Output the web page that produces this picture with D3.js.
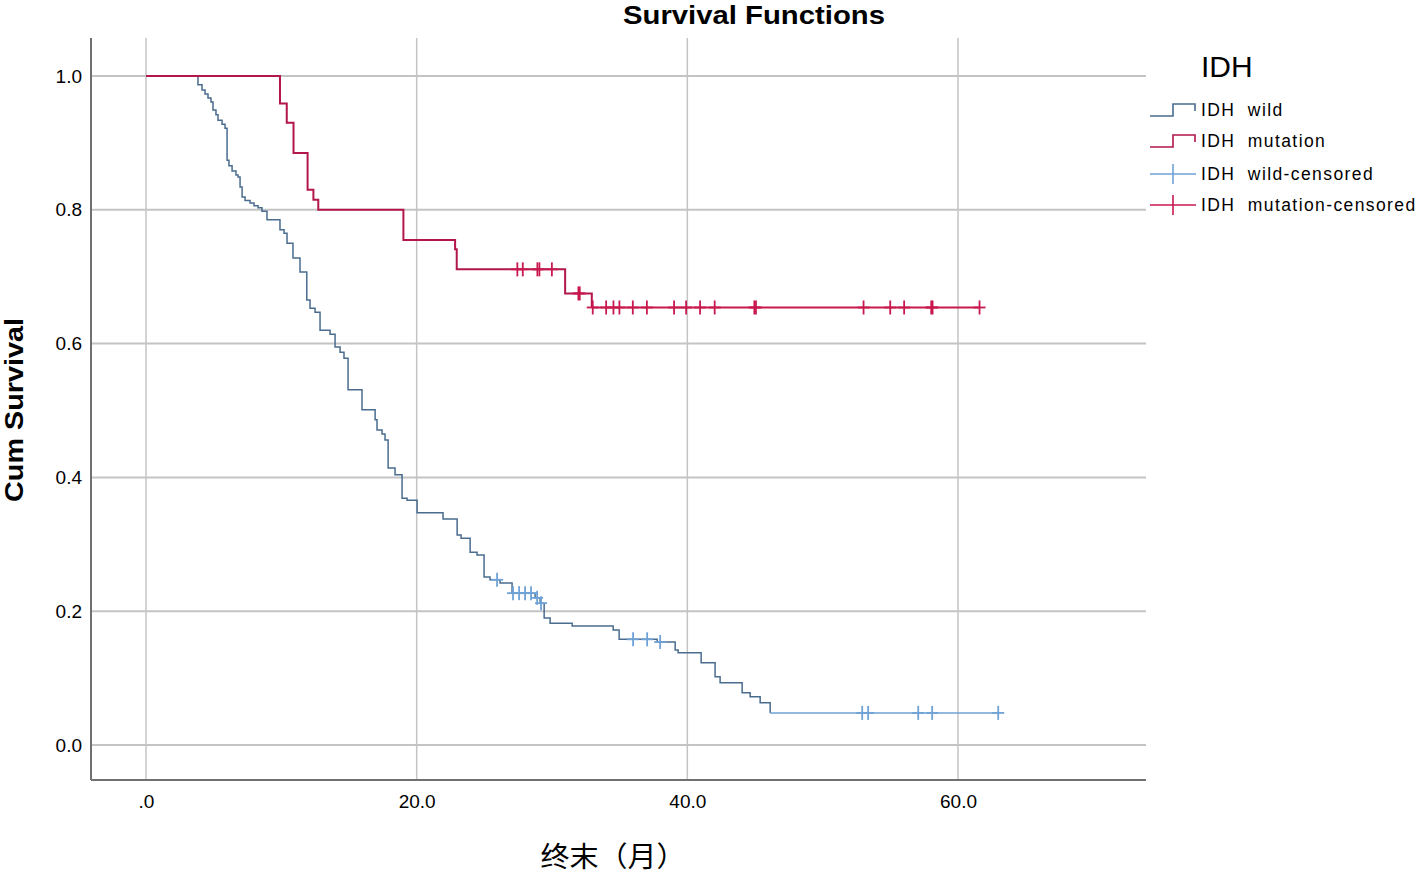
<!DOCTYPE html>
<html>
<head>
<meta charset="utf-8">
<script src="https://cdn.jsdelivr.net/npm/d3@7"></script>
<style>
  html, body { margin: 0; padding: 0; background: #fff; }
  svg { display: block; }
  text { font-family: "Liberation Sans", Arial, sans-serif; fill: #000; }
</style>
</head>
<body>
<svg id="chart" width="1416" height="875"></svg>
<script>
// ---- Data ----
const xTicks = [0, 20, 40, 60];
const xTickLabels = [".0", "20.0", "40.0", "60.0"];
const yTicks = [0, 0.2, 0.4, 0.6, 0.8, 1.0];
const yTickLabels = ["0.0", "0.2", "0.4", "0.6", "0.8", "1.0"];

const seriesNames = ["IDH wild", "IDH mutation", "IDH wild-censored", "IDH mutation-censored"];

// IDH wild: event times (months) and survival after each event
const wildTimes = [3.84,4.14,4.36,4.58,4.80,4.95,5.17,5.32,5.62,5.84,5.99,6.13,6.36,6.65,6.80,6.95,7.10,7.32,7.69,7.98,8.28,8.57,8.94,9.90,10.20,10.42,10.86,11.38,11.88,12.12,12.49,12.86,13.60,13.97,14.34,14.63,14.93,15.96,16.93,17.07,17.44,17.66,17.89,18.40,18.92,19.29,20.03,21.95,22.99,23.28,23.95,24.46,24.98,25.42,26.16,27.05,28.75,29.12,29.42,29.86,31.49,34.52,34.96,37.77,39.10,39.32,41.02,42.05,42.42,44.05,44.64,45.38,46.12];
const wildSurv = [0.987,0.979,0.973,0.967,0.961,0.949,0.942,0.934,0.928,0.922,0.874,0.866,0.858,0.852,0.849,0.834,0.819,0.814,0.810,0.806,0.803,0.798,0.785,0.770,0.765,0.750,0.728,0.707,0.665,0.653,0.647,0.620,0.614,0.595,0.587,0.578,0.531,0.501,0.486,0.471,0.465,0.456,0.414,0.404,0.369,0.366,0.347,0.338,0.314,0.309,0.288,0.284,0.251,0.247,0.242,0.227,0.220,0.212,0.190,0.182,0.178,0.172,0.158,0.154,0.142,0.138,0.123,0.102,0.093,0.078,0.072,0.063,0.048];
const wildCensored = [25.94,27.12,27.57,28.01,28.45,28.90,29.19,35.99,37.03,37.99,52.92,53.36,57.06,58.09,62.97];

// IDH mutation
const mutTimes = [9.90,10.40,10.90,11.94,12.37,12.73,19.02,22.84,22.96,30.97,32.94];
const mutSurv = [0.959,0.930,0.885,0.830,0.815,0.800,0.755,0.741,0.711,0.675,0.654];
const mutCensored = [27.44,27.84,28.92,29.07,29.99,31.95,32.05,33.01,34.00,34.54,34.98,35.97,37.01,39.02,39.91,40.94,42.02,44.95,45.07,53.02,54.99,56.02,58.02,58.12,61.59];

// ---- Styles ----
const wildLine = "#4a6c8f", wildCens = "#6fa2d6";
const mutLine = "#b3164a", mutCens = "#c8184e";
const gridColor = "#c4c4c4", axisColor = "#707070";

const svg = d3.select("#chart");
const plot = { left: 91, right: 1146, top: 38, bottom: 780 };

const x = d3.scaleLinear().domain([-4.064, 73.89]).range([plot.left, plot.right]);
const y = d3.scaleLinear().domain([-0.0523, 1.0568]).range([plot.bottom, plot.top]);

// Gridlines
svg.append("g").selectAll("line.v").data(xTicks).join("line")
  .attr("x1", d => x(d)).attr("x2", d => x(d))
  .attr("y1", plot.top).attr("y2", plot.bottom)
  .attr("stroke", gridColor).attr("stroke-width", 1.5);
svg.append("g").selectAll("line.h").data(yTicks).join("line")
  .attr("x1", plot.left).attr("x2", plot.right)
  .attr("y1", d => y(d)).attr("y2", d => y(d))
  .attr("stroke", gridColor).attr("stroke-width", 2);

// Axes (no tick marks)
const xAxis = d3.axisBottom(x).tickValues(xTicks).tickFormat((d, i) => xTickLabels[i]).tickSize(0).tickPadding(15);
const gx = svg.append("g").attr("transform", `translate(0,${plot.bottom})`).call(xAxis);
gx.select(".domain").remove();
gx.selectAll("text").attr("font-size", 19).attr("font-family", "Liberation Sans, Arial, sans-serif").attr("fill", "#111");

const yAxis = d3.axisLeft(y).tickValues(yTicks).tickFormat((d, i) => yTickLabels[i]).tickSize(0).tickPadding(9);
const gy = svg.append("g").attr("transform", `translate(${plot.left},0)`).call(yAxis);
gy.select(".domain").remove();
gy.selectAll("text").attr("font-size", 19).attr("font-family", "Liberation Sans, Arial, sans-serif").attr("fill", "#111");

svg.append("line").attr("x1", plot.left).attr("x2", plot.left).attr("y1", plot.top).attr("y2", plot.bottom)
  .attr("stroke", axisColor).attr("stroke-width", 2);
svg.append("line").attr("x1", plot.left).attr("x2", plot.right).attr("y1", plot.bottom).attr("y2", plot.bottom)
  .attr("stroke", axisColor).attr("stroke-width", 2);

// Survival step functions
function survAt(times, surv, t) {
  let s = 1;
  for (let i = 0; i < times.length; i++) if (times[i] <= t) s = surv[i];
  return s;
}
const line = d3.line().x(d => x(d[0])).y(d => y(d[1])).curve(d3.curveStepAfter);

function drawSeries(times, surv, cens, lineColor, censColor, lw) {
  const pts = [[0, 1]].concat(times.map((t, i) => [t, surv[i]]));
  svg.append("path").datum(pts).attr("d", line)
    .attr("fill", "none").attr("stroke", lineColor).attr("stroke-width", lw);
  const lastT = times[times.length - 1], lastS = surv[surv.length - 1];
  const endT = Math.max(lastT, d3.max(cens));
  svg.append("path").datum([[lastT, lastS], [endT, lastS]]).attr("d", line)
    .attr("fill", "none").attr("stroke", censColor).attr("stroke-width", lw);
  const g = svg.append("g");
  cens.forEach(t => {
    const cx = x(t), cy = y(survAt(times, surv, t));
    g.append("line").attr("x1", cx).attr("x2", cx).attr("y1", cy - 7).attr("y2", cy + 7)
      .attr("stroke", censColor).attr("stroke-width", 1.8);
    g.append("line").attr("x1", cx - 6).attr("x2", cx + 6).attr("y1", cy).attr("y2", cy)
      .attr("stroke", censColor).attr("stroke-width", 1.8);
  });
}
drawSeries(wildTimes, wildSurv, wildCensored, wildLine, wildCens, 1.5);
drawSeries(mutTimes, mutSurv, mutCensored, mutLine, mutCens, 2);

// Titles
svg.append("text").attr("x", 754).attr("y", 24).attr("text-anchor", "middle")
  .attr("font-size", 26).attr("font-weight", "bold")
  .attr("textLength", 262).attr("lengthAdjust", "spacingAndGlyphs").text("Survival Functions");
svg.append("text").attr("transform", "translate(23,410) rotate(-90)").attr("text-anchor", "middle")
  .attr("font-size", 26).attr("font-weight", "bold")
  .attr("textLength", 184).attr("lengthAdjust", "spacingAndGlyphs").text("Cum Survival");
svg.append("text").attr("x", 613).attr("y", 867).attr("text-anchor", "middle")
  .attr("font-size", 28).style("font-family", "'Noto Sans CJK SC', sans-serif")
  .attr("textLength", 145).attr("lengthAdjust", "spacingAndGlyphs").text("终末（月）");

// Legend
svg.append("text").attr("x", 1201).attr("y", 77).attr("font-size", 30).text("IDH");
const legY = [110, 141, 174, 205];
const legColors = [wildLine, mutLine, wildCens, mutCens];
seriesNames.forEach((name, i) => {
  const cy = legY[i];
  if (i < 2) {
    svg.append("path")
      .attr("d", `M1150,${cy + 6} H1173 V${cy - 6} H1195 V${cy + 1}`)
      .attr("fill", "none").attr("stroke", legColors[i]).attr("stroke-width", 1.6);
  } else {
    svg.append("line").attr("x1", 1150).attr("x2", 1196).attr("y1", cy).attr("y2", cy)
      .attr("stroke", legColors[i]).attr("stroke-width", 1.6);
    svg.append("line").attr("x1", 1173).attr("x2", 1173).attr("y1", cy - 10).attr("y2", cy + 10)
      .attr("stroke", legColors[i]).attr("stroke-width", 1.6);
  }
  svg.append("text").attr("x", 1201).attr("y", cy + 6).attr("font-size", 17.5)
    .attr("letter-spacing", 1.4).text(name.replace(" ", "\u00a0\u00a0"));
});
</script>
</body>
</html>
